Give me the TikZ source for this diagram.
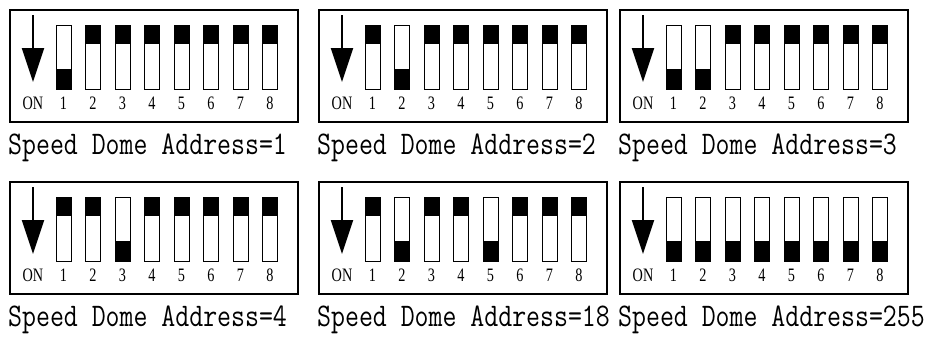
\documentclass[tikz,border=0pt]{standalone}
\usepackage{fontspec}
\setmainfont{Liberation Serif}
\newfontfamily\capfont[FakeStretch=0.82]{Latin Modern Mono}
\newfontfamily\numfont[FakeStretch=0.75]{Liberation Serif}
\usetikzlibrary{calc,positioning,arrows.meta}

% one DIP switch bank: name, x, y, switch states (1 = ON), caption
\newcommand{\dipbank}[5]{%
  \node[bank] (#1) at (#2,#3) {};
  \coordinate (#1-top) at ($(#1.north west)+(23,5)$);
  \coordinate (#1-tip) at ($(#1.north west)+(23,72)$);
  \draw[onarrow] (#1-top) -- (#1-tip);
  \node[pinlabel] (#1-on) at ($(#1.north west)+(23,93)$) {ON};
  \foreach \st [count=\i] in {#4} {
    \node[switch] (#1-s\i) at ($(#1.north west)+(46+29.5*\i-29.5,15)$) {};
    \ifnum\st=1
      \fill (#1-s\i.south west) rectangle ++(15,-20);
    \else
      \fill (#1-s\i.north west) rectangle ++(15,19);
    \fi
    \node[pinlabel] (#1-n\i) at ($(#1-s\i.south)+(0,14)$) {\i};
  }
  \node[caption] (#1-cap) at ($(#1.north west)+(-2,144)$) {#5};
}

\begin{document}
\begin{tikzpicture}[x=1pt, y=-1pt,
    bank/.style={draw, line width=1.1pt, anchor=north west, minimum width=288pt, minimum height=112pt, inner sep=0pt, outer sep=0pt},
    switch/.style={draw, line width=1pt, anchor=north west, minimum width=15pt, minimum height=64pt, inner sep=0pt, outer sep=0pt},
    onarrow/.style={line width=2pt, -{Triangle[width=22pt,length=34pt]}},
    pinlabel/.style={font=\numfont\fontsize{19}{19}\selectfont, inner sep=0pt},
    caption/.style={anchor=base west, inner sep=0pt, font=\capfont\fontsize{33}{33}\selectfont}]
  \useasboundingbox (0,0) rectangle (934,338);
  % first row
  \dipbank{adrA}{10}{10}{1,0,0,0,0,0,0,0}{Speed Dome Address=1}
  \dipbank{adrB}{319}{10}{0,1,0,0,0,0,0,0}{Speed Dome Address=2}
  \dipbank{adrC}{620}{10}{1,1,0,0,0,0,0,0}{Speed Dome Address=3}
  % second row
  \dipbank{adrD}{10}{182}{0,0,1,0,0,0,0,0}{Speed Dome Address=4}
  \dipbank{adrE}{319}{182}{0,1,0,0,1,0,0,0}{Speed Dome Address=18}
  \dipbank{adrF}{620}{182}{1,1,1,1,1,1,1,1}{Speed Dome Address=255}
\end{tikzpicture}
\end{document}
